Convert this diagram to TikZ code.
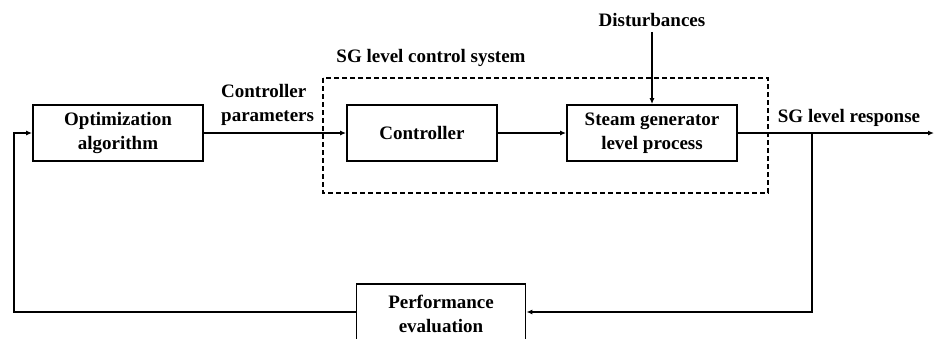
\documentclass[tikz,border=0pt]{standalone}
\usepackage{fontspec}
\setmainfont{Liberation Serif}
\usetikzlibrary{arrows.meta}
\begin{document}
\begin{tikzpicture}[x=1pt,y=-1pt,
  blk/.style={draw,line width=1.8pt,minimum height=56pt,align=center,inner sep=0pt,font=\fontsize{19}{24}\selectfont\bfseries},
  lbl/.style={align=center,inner sep=0pt,font=\fontsize{19}{24}\selectfont\bfseries},
  conn/.style={line width=1.5pt,-{Latex[length=6pt,width=5pt]}},
  wire/.style={line width=1.5pt}]
\useasboundingbox (0,0) rectangle (935,338);
\node[blk,minimum width=170pt] (opt) at (118,133) {Optimization\\algorithm};
\node[blk,minimum width=150pt] (ctrl) at (422,133) {Controller};
\node[blk,minimum width=170pt] (sg) at (652,133) {Steam generator\\level process};
\node[blk,minimum width=169pt,minimum height=60pt] (perf) at (441,314) {Performance\\evaluation};
\draw[dashed,line width=1.2pt,dash pattern=on 5pt off 3pt] (323,78) rectangle (768,193);
\node[lbl] (sys) at (431,58) {SG level control system};
\node[lbl] (dist) at (652,20) {Disturbances};
\node[lbl,align=left,anchor=west] (cp) at (221,105) {Controller\\parameters};
\node[lbl] (resp) at (849,118) {SG level response};
\coordinate (out) at (934,133);
\coordinate (br) at (812,133);
\coordinate (brd) at (812,312);
\coordinate (pr) at (perf.east |- brd);
\coordinate (pl) at (perf.west |- brd);
\coordinate (fl) at (14,312);
\coordinate (fu) at (14,133);
\coordinate (ds) at ([yshift=-5pt]dist.south);
\draw[conn] (opt) -- (ctrl);
\draw[conn] (ctrl) -- (sg);
\draw[conn] (ds) -- (sg);
\draw[conn] (sg) -- (out);
\draw[conn] (br) -- (brd) -- (pr);
\draw[conn] (pl) -- (fl) -- (fu) -- (opt);
\end{tikzpicture}
\end{document}
